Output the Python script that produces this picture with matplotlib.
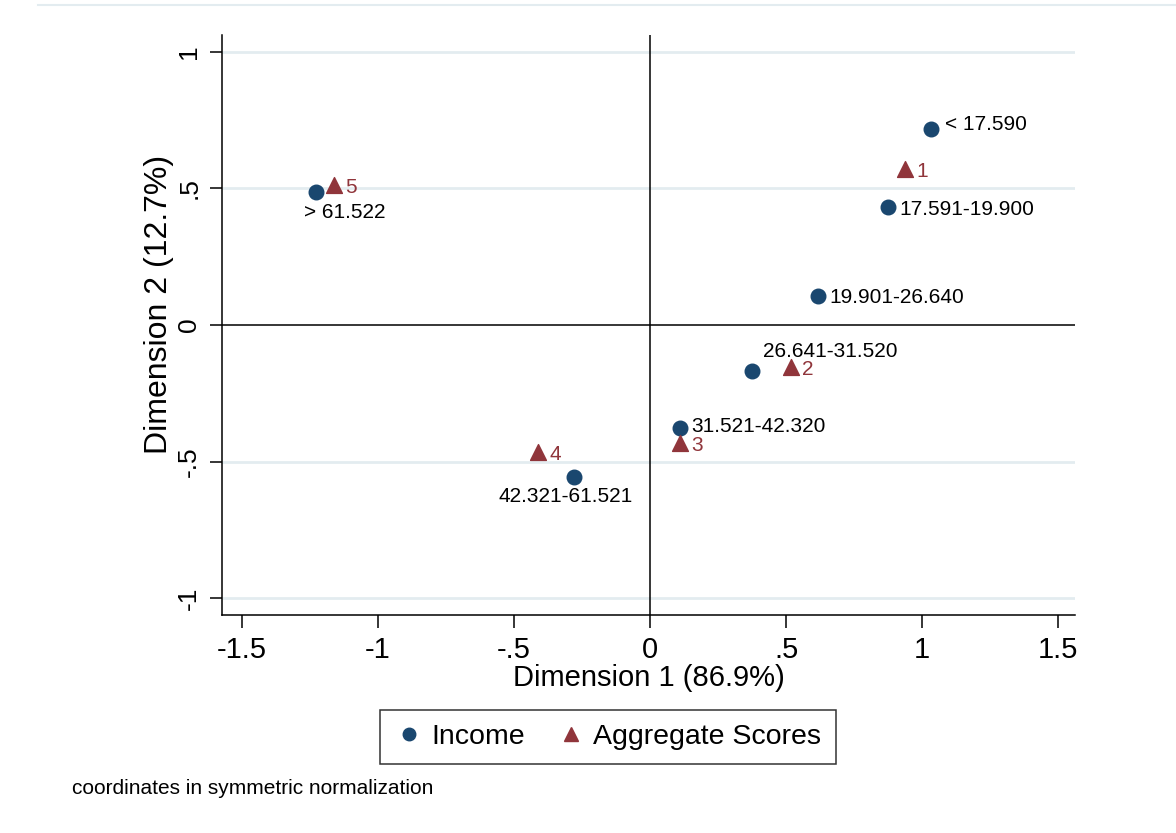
import matplotlib.pyplot as plt
from matplotlib.lines import Line2D
from matplotlib import font_manager

# Row categories (income bands) and their coordinates
income_labels = ["< 17.590", "17.591-19.900", "19.901-26.640", "26.641-31.520",
                 "31.521-42.320", "42.321-61.521", "> 61.522"]
income_dim1 = [1.033, 0.875, 0.618, 0.375, 0.110, -0.279, -1.228]
income_dim2 = [0.718, 0.432, 0.106, -0.168, -0.377, -0.557, 0.487]

# Column categories (aggregate scores)
score_labels = ["1", "2", "3", "4", "5"]
score_dim1 = [0.938, 0.518, 0.110, -0.412, -1.162]
score_dim2 = [0.571, -0.154, -0.432, -0.465, 0.513]

# label offsets in points, Stata-style clock positions
income_offsets = [(10, 3), (8, -2), (8, -1), (8, 14), (8, 1), (-6, -14), (-9, -15)]
income_ha = ["left", "left", "left", "left", "left", "center", "left"]

NAVY = "#1a476f"
MAROON = "#90353b"
GRID = "#e3ecf0"

installed = {f.name for f in font_manager.fontManager.ttflist}
NARROW = "Liberation Sans Narrow" if "Liberation Sans Narrow" in installed else "Liberation Sans"
plt.rcParams["font.family"] = ["Liberation Sans", "DejaVu Sans"]

fig = plt.figure(figsize=(11.76, 8.33), dpi=100)
fig.patch.set_facecolor("white")
ax = fig.add_axes([0.1888, 0.2617, 0.7253, 0.6963])

ax.set_xlim(-1.574, 1.5625)
ax.set_ylim(-1.062, 1.062)

for y in [-1, -0.5, 0.5, 1]:
    ax.axhline(y, color=GRID, lw=2, zorder=0)
ax.axhline(0, color="black", lw=1.1, zorder=1)
ax.axvline(0, color="black", lw=1.1, zorder=1)

ax.scatter(income_dim1, income_dim2, s=110, marker="o", color=NAVY, zorder=3)
ax.scatter(score_dim1, score_dim2, s=130, marker="^", color=MAROON, zorder=3)

for lab, x, y, off, ha in zip(income_labels, income_dim1, income_dim2, income_offsets, income_ha):
    ax.annotate(lab, (x, y), xytext=off, textcoords="offset points",
                ha=ha, va="center", fontsize=15, color="black")
for lab, x, y in zip(score_labels, score_dim1, score_dim2):
    ax.annotate(lab, (x, y), xytext=(8, -2), textcoords="offset points",
                ha="left", va="center", fontsize=15, color=MAROON)

ax.set_xticks([-1.5, -1, -0.5, 0, 0.5, 1, 1.5])
ax.set_xticklabels(["-1.5", "-1", "-.5", "0", ".5", "1", "1.5"], fontsize=21, family=NARROW)
ax.set_yticks([-1, -0.5, 0, 0.5, 1])
ax.set_yticklabels(["-1", "-.5", "0", ".5", "1"], fontsize=19, rotation=90, va="center")
ax.tick_params(axis="both", direction="out", length=9, width=1.1, color="black", pad=6)

for side in ["top", "right"]:
    ax.spines[side].set_visible(False)
for side in ["left", "bottom"]:
    ax.spines[side].set_linewidth(1.1)

ax.set_xlabel("Dimension 1 (86.9%)", fontsize=21, family=NARROW, labelpad=0)
ax.set_ylabel("Dimension 2 (12.7%)", fontsize=23, labelpad=2)
ax.yaxis.label.set_y(0.535)

handles = [
    Line2D([], [], marker="o", ls="none", color=NAVY, markersize=9, label="Income"),
    Line2D([], [], marker="^", ls="none", color=MAROON, markersize=10, label="Aggregate Scores"),
]
leg = fig.legend(handles=handles, loc="center", bbox_to_anchor=(0.517, 0.115), ncol=2,
                 frameon=True, fancybox=False, edgecolor="black", handletextpad=0.3,
                 columnspacing=1.1, borderpad=0.5, handlelength=1.0,
                 prop={"family": NARROW, "size": 20.5})
leg.get_frame().set_linewidth(1.1)

fig.text(0.061, 0.053, "coordinates in symmetric normalization", fontsize=15,
         family=NARROW, ha="left", va="center")

# faint rule along the top edge
fig.add_artist(Line2D([0.032, 1.0], [0.994, 0.994], transform=fig.transFigure,
                      color=GRID, lw=1.5))

fig.savefig("out.png", dpi=100, facecolor="white")
